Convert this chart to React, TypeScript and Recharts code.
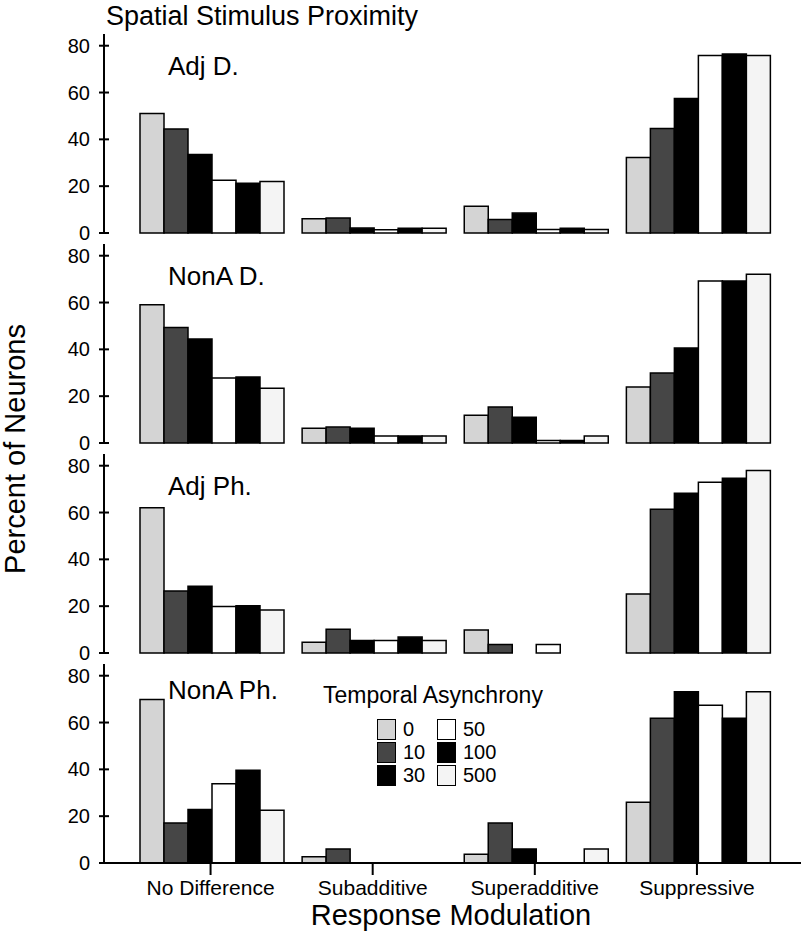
import React from "react";
import { BarChart, Bar, XAxis, YAxis, Legend } from "recharts";

const categories = ["No Difference", "Subadditive", "Superadditive", "Suppressive"];
const asynchronies = ["0", "10", "30", "50", "100", "500"];
const asyncColors = ["#d4d4d4", "#464646", "#000000", "#ffffff", "#000000", "#f4f4f4"];
const yTicks = [0, 20, 40, 60, 80];
const panelLabels = ["Adj D.", "NonA D.", "Adj Ph.", "NonA Ph."];

// percent of neurons: one row per category, one column per asynchrony
const adjD = [
  [51, 44.4, 33.5, 22.5, 21.2, 22],
  [6.1, 6.4, 2.1, 1.4, 2, 2],
  [11.4, 5.8, 8.5, 1.5, 2, 1.5],
  [32.3, 44.6, 57.5, 75.8, 76.5, 75.8],
];
const nonAD = [
  [59.1, 49.3, 44.4, 27.8, 28.2, 23.4],
  [6.3, 6.8, 6.3, 3, 3, 3],
  [11.8, 15.4, 11, 1.1, 1.1, 3],
  [23.9, 29.9, 40.6, 69.2, 69.2, 72.1],
];
const adjPh = [
  [62, 26.5, 28.5, 19.9, 20.2, 18.4],
  [4.6, 10.1, 5.3, 5.3, 6.8, 5.3],
  [9.8, 3.6, 0, 3.6, 0, 0],
  [25.2, 61.4, 68.2, 72.9, 74.6, 77.9],
];
const nonAPh = [
  [69.8, 17.1, 22.8, 33.9, 39.6, 22.5],
  [2.7, 6, 0, 0, 0, 0],
  [3.7, 17.1, 6, 0, 0, 6],
  [25.9, 61.8, 73.2, 67.4, 61.8, 73.1],
];
const panels = [adjD, nonAD, adjPh, nonAPh];

const toRows = (values: number[][]) =>
  categories.map((name, i) => {
    const row: Record<string, any> = { name };
    asynchronies.forEach((a, j) => {
      row["t" + a] = values[i][j];
    });
    return row;
  });

const FONT = '"Liberation Sans", Arial, Helvetica, sans-serif';
const STEP = 210;
const LAST_X_HEIGHT = 45;

const YTick = (props: any) => {
  const { x, y, payload } = props;
  const ax = x + 14; // text sits tickSize + tickMargin left of the axis
  return (
    <g>
      <line x1={ax - 5} x2={ax + 5} y1={y} y2={y} stroke="#000" strokeWidth={2} />
      <text x={ax - 14} y={y} dy="0.355em" textAnchor="end" fontSize={20} fill="#000">
        {payload.value}
      </text>
    </g>
  );
};

const LegendBox = (props: any) => {
  const items = props.payload || [];
  return (
    <div style={{ position: "relative", width: 240, height: 110, fontFamily: FONT, color: "#000" }}>
      <div style={{ position: "absolute", left: 0, top: 0, fontSize: 23, lineHeight: "26px", whiteSpace: "nowrap" }}>
        Temporal Asynchrony
      </div>
      {items.map((item: any, k: number) => {
        const col = Math.floor(k / 3);
        const row = k % 3;
        const left = 54 + col * 60;
        const top = 36.5 + row * 23.3;
        return (
          <React.Fragment key={item.value}>
            <div
              style={{
                position: "absolute",
                left,
                top,
                width: 19,
                height: 21,
                boxSizing: "border-box",
                border: "1.5px solid #000",
                background: item.color,
              }}
            />
            <div style={{ position: "absolute", left: left + 26, top, fontSize: 20, lineHeight: "21px" }}>
              {item.value}
            </div>
          </React.Fragment>
        );
      })}
    </div>
  );
};

const Panel = ({ values, index }: { values: number[][]; index: number }) => {
  const last = index === panels.length - 1;
  const bottom = last ? 0 : 14; // room for the "0" tick label below the baseline
  const height = 10 + 199 + bottom + (last ? LAST_X_HEIGHT : 0);
  return (
    <div style={{ position: "absolute", left: 0, top: 24 + index * STEP }}>
      <BarChart
        width={802}
        height={height}
        data={toRows(values)}
        margin={{ top: 10, right: 1, left: 44, bottom }}
        barCategoryGap={10.5}
        barGap={0}
      >
        <XAxis
          dataKey="name"
          interval={0}
          height={last ? LAST_X_HEIGHT : 0}
          padding={{ left: 25.5, right: 23 }}
          axisLine={{ stroke: "#000", strokeWidth: 2 }}
          tickLine={last ? { stroke: "#000", strokeWidth: 2 } : false}
          tick={last ? { fill: "#000", fontSize: 21 } : false}
          tickSize={12}
          tickMargin={5}
        />
        <YAxis
          type="number"
          domain={[0, 85]}
          ticks={yTicks}
          width={60}
          axisLine={{ stroke: "#000", strokeWidth: 2 }}
          tickLine={false}
          tickSize={5}
          tickMargin={9}
          tick={<YTick />}
        />
        {asynchronies.map((a, j) => (
          <Bar
            key={a}
            dataKey={"t" + a}
            name={a}
            fill={asyncColors[j]}
            stroke="#000"
            strokeWidth={1.5}
            isAnimationActive={false}
          />
        ))}
        {last && (
          <Legend
            content={<LegendBox />}
            layout="horizontal"
            align="center"
            verticalAlign="middle"
            itemSorter={(item: any) => asynchronies.indexOf(String(item.value))}
            wrapperStyle={{ position: "absolute", left: 323, top: 28, width: 240, height: 110 }}
          />
        )}
      </BarChart>
    </div>
  );
};

export default function App() {
  return (
    <div
      style={{
        position: "absolute",
        left: 0,
        top: 0,
        width: 802,
        height: 942,
        background: "#fff",
        fontFamily: FONT,
        overflow: "hidden",
      }}
    >
      {panels.map((values, i) => (
        <Panel key={panelLabels[i]} values={values} index={i} />
      ))}
      <svg
        width={802}
        height={942}
        style={{ position: "absolute", left: 0, top: 0, pointerEvents: "none" }}
        fontFamily={FONT}
      >
        <text x={106} y={25} fontSize={27} fill="#000">
          Spatial Stimulus Proximity
        </text>
        {panelLabels.map((label, i) => (
          <text key={label} x={168} y={i === 3 ? 699 : 75 + i * STEP} fontSize={26} fill="#000">
            {label}
          </text>
        ))}
        <text x={25} y={449} fontSize={29} fill="#000" textAnchor="middle" transform="rotate(-90 25 449)">
          Percent of Neurons
        </text>
        <text x={451} y={925} fontSize={29} fill="#000" textAnchor="middle">
          Response Modulation
        </text>
      </svg>
    </div>
  );
}
